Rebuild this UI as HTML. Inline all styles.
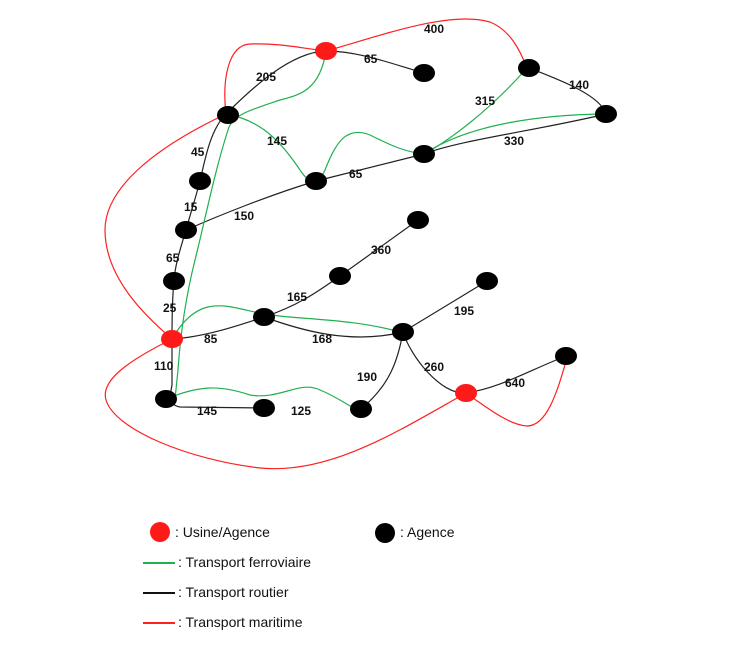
<!DOCTYPE html>
<html><head><style>body{margin:0;background:#fff}svg{display:block}</style></head><body>
<svg width="737" height="647" viewBox="0 0 737 647" xmlns="http://www.w3.org/2000/svg">
<g fill="none" stroke-width="1.2">
<path stroke="#ff2020" d="M226,114 C222,80 228,45 250,44 C280,43 300,48 326,51 C380,36 450,10 490,22 C510,30 520,50 527,68"/>
<path stroke="#ff2020" d="M226,114 C150,150 105,190 105,230 C105,280 150,320 172,339"/>
<path stroke="#ff2020" d="M172,339 C130,360 100,380 106,400 C115,430 190,460 260,468 C330,475 400,430 466,393"/>
<path stroke="#ff2020" d="M466,393 C490,410 510,425 527,426 C550,426 560,380 568,355"/>
<g stroke="#222">
<path d="M226,114 C250,90 290,52 326,51 C360,51 395,65 424,73"/>
<path d="M529,68 C560,80 600,95 606,114"/>
<path d="M606,114 C540,130 460,140 424,154 C380,165 340,175 316,181 C270,195 220,215 186,230"/>
<path d="M226,114 C210,130 205,160 200,181 C195,200 190,215 186,230 C180,250 175,265 174,281 C172,300 172,320 172,339 L172,385 C170,395 168,405 180,407 L264,408"/>
<path d="M172,339 C205,337 240,325 264,317 C300,305 320,290 340,276 L418,220"/>
<path d="M264,317 C300,330 350,345 403,332 L487,281"/>
<path d="M403,332 C398,360 390,385 361,409"/>
<path d="M403,332 C410,355 440,395 466,393 C500,388 530,370 566,356"/>
</g>
<g stroke="#20b050">
<path d="M326,51 C320,90 300,95 280,100 C250,110 232,115 228,130 C215,170 205,220 195,260 C185,300 180,340 178,370 L175,399"/>
<path d="M226,114 C260,120 280,140 300,170 C310,185 318,185 325,170 C335,145 345,125 370,135 C390,145 405,152 424,154 C450,140 490,110 527,68"/>
<path d="M424,154 C460,130 520,115 606,114"/>
<path d="M172,339 C200,290 230,308 264,314 C300,320 350,318 400,332"/>
<path d="M166,399 C200,385 220,385 250,395 C280,400 300,380 320,390 C340,398 350,408 358,409"/>
</g>
</g>
<g fill="#000">
<ellipse cx="424" cy="73" rx="11" ry="9"/><ellipse cx="529" cy="68" rx="11" ry="9"/>
<ellipse cx="606" cy="114" rx="11" ry="9"/><ellipse cx="228" cy="115" rx="11" ry="9"/>
<ellipse cx="424" cy="154" rx="11" ry="9"/><ellipse cx="316" cy="181" rx="11" ry="9"/>
<ellipse cx="200" cy="181" rx="11" ry="9"/><ellipse cx="186" cy="230" rx="11" ry="9"/>
<ellipse cx="418" cy="220" rx="11" ry="9"/><ellipse cx="340" cy="276" rx="11" ry="9"/>
<ellipse cx="174" cy="281" rx="11" ry="9"/><ellipse cx="487" cy="281" rx="11" ry="9"/>
<ellipse cx="264" cy="317" rx="11" ry="9"/><ellipse cx="403" cy="332" rx="11" ry="9"/>
<ellipse cx="566" cy="356" rx="11" ry="9"/><ellipse cx="166" cy="399" rx="11" ry="9"/>
<ellipse cx="264" cy="408" rx="11" ry="9"/><ellipse cx="361" cy="409" rx="11" ry="9"/>
</g>
<g fill="#ff1a1a">
<ellipse cx="326" cy="51" rx="11" ry="9"/><ellipse cx="172" cy="339" rx="11" ry="9"/><ellipse cx="466" cy="393" rx="11" ry="9"/>
</g>
<g font-family="Liberation Sans, sans-serif" font-weight="bold" font-size="12" fill="#111">
<text x="424" y="33">400</text><text x="364" y="63">65</text><text x="256" y="81">205</text>
<text x="569" y="89">140</text><text x="475" y="105">315</text><text x="267" y="145">145</text>
<text x="504" y="145">330</text><text x="191" y="156">45</text><text x="349" y="178">65</text>
<text x="184" y="211">15</text><text x="234" y="220">150</text><text x="371" y="254">360</text>
<text x="166" y="262">65</text><text x="287" y="301">165</text><text x="163" y="312">25</text>
<text x="454" y="315">195</text><text x="204" y="343">85</text><text x="312" y="343">168</text>
<text x="154" y="370">110</text><text x="424" y="371">260</text><text x="357" y="381">190</text>
<text x="505" y="387">640</text><text x="197" y="415">145</text><text x="291" y="415">125</text>
</g>
<circle cx="160" cy="532" r="10" fill="#ff1a1a"/>
<circle cx="385" cy="533" r="10" fill="#000"/>
<g stroke-width="2"><line x1="143" y1="563" x2="175" y2="563" stroke="#20b050"/>
<line x1="143" y1="593" x2="175" y2="593" stroke="#111"/>
<line x1="143" y1="623" x2="175" y2="623" stroke="#ff2020"/></g>
<g font-family="Liberation Sans, sans-serif" font-size="14" fill="#111">
<text x="175" y="537">: Usine/Agence</text><text x="400" y="537">: Agence</text>
<text x="178" y="567">: Transport ferroviaire</text><text x="178" y="597">: Transport routier</text>
<text x="178" y="627">: Transport maritime</text>
</g>
</svg>
</body></html>
